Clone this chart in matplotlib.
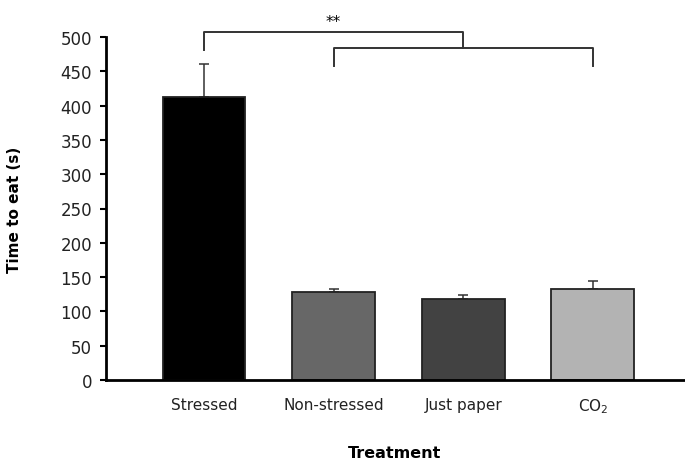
import matplotlib.pyplot as plt
import numpy as np

plt.rcParams['font.family'] = ['DejaVu Sans']

# Datos
tratamientos = ["Stressed", "Non-stressed", "Just paper", "CO$_2$"]
tiempos = [413, 129, 118, 133]
errores = [48, 4, 6, 11]
colores = ["#000000", "#676767", "#424242", "#b3b3b3"]
yticks = [0, 50, 100, 150, 200, 250, 300, 350, 400, 450, 500]

fig = plt.figure(figsize=(6.85, 4.64), dpi=100)
ax = fig.add_axes([106 / 685, 83 / 464, 1 - 106 / 685, 343 / 464])

x = np.arange(len(tratamientos))
ax.bar(x, tiempos, width=0.64, color=colores, edgecolor="#222222", linewidth=1.3, zorder=2)
ax.errorbar(x, tiempos, yerr=[np.zeros(len(errores)), errores], fmt="none",
            ecolor="#333333", elinewidth=1.1, capsize=3.5, capthick=1.1, zorder=1)

ax.set_xlim(-0.756, 3.71)
ax.set_ylim(0, 500)
ax.set_yticks(yticks)
ax.tick_params(axis="y", direction="out", length=4, width=1.5, labelsize=12, pad=6,
               labelcolor="#222222")
ax.set_xticks(x)
ax.set_xticklabels(tratamientos, fontsize=11, color="#222222")
ax.tick_params(axis="x", length=0, pad=12)
for s in ["top", "right"]:
    ax.spines[s].set_visible(False)
ax.spines["left"].set_linewidth(2)
ax.spines["bottom"].set_linewidth(2)

ax.set_ylabel("Time to eat (s)", fontsize=11, fontweight="bold")
ax.set_xlabel("Treatment", fontsize=11.5, fontweight="bold", va="center")
ax.yaxis.set_label_coords(-0.145, 0.5)
ax.xaxis.set_label_coords(0.499, -0.21)

# Corchetes de significancia
lc = "#333333"
ax.plot([0, 0, 2, 2], [481, 507, 507, 484], color=lc, lw=1.4, clip_on=False)
ax.plot([1, 1, 3, 3], [458, 484, 484, 458], color=lc, lw=1.4, clip_on=False)
ax.text(1, 511, "**", ha="center", va="bottom", fontsize=11, clip_on=False)

fig.savefig("out.png", dpi=100)
